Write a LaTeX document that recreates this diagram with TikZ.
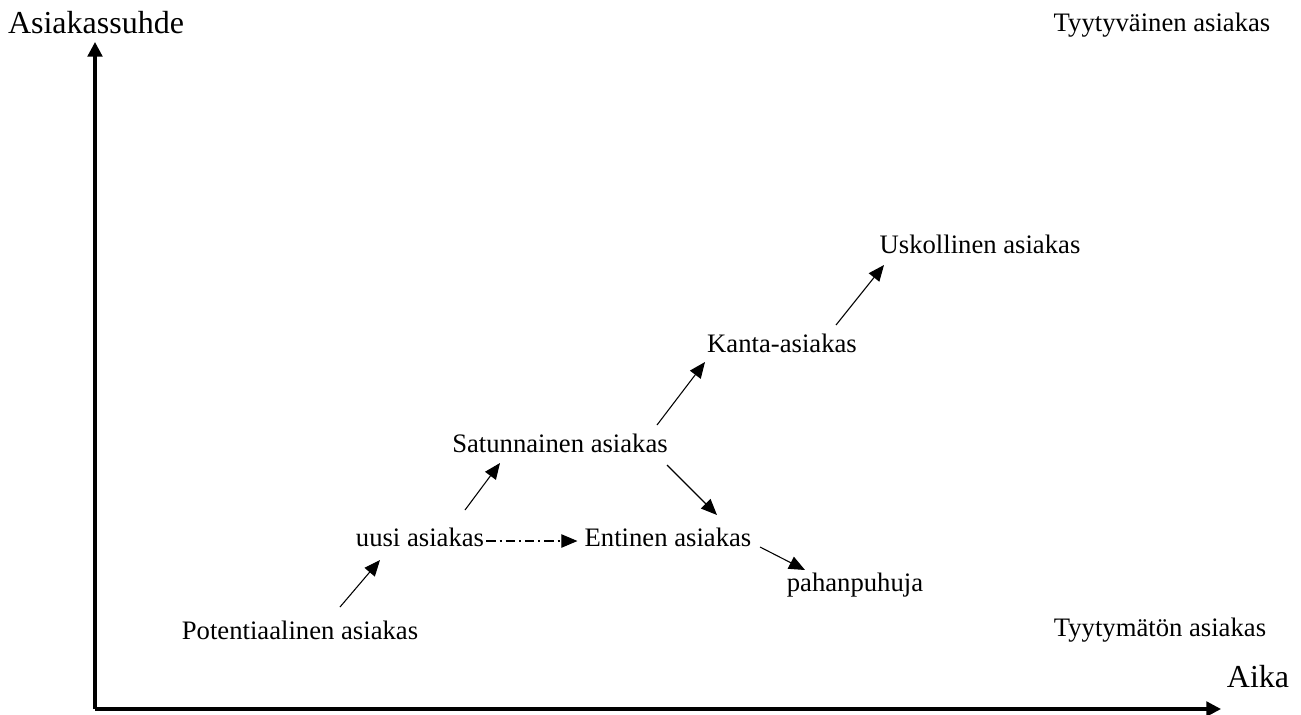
\documentclass[tikz,border=0pt]{standalone}
\usepackage{fontspec}
\setmainfont{Liberation Serif}
\usetikzlibrary{arrows.meta,calc}
\tikzset{
	lbl/.style={font=\fontsize{20}{24}\selectfont, inner sep=0pt},
	axlbl/.style={font=\fontsize{24}{28}\selectfont, inner sep=0pt},
	axis/.style={line width=2.4pt, -{Triangle[length=11pt,width=11pt]}},
	pfeil/.style={line width=0.8pt, -{Triangle[length=12pt,width=10pt]}},
}
\begin{document}
\begin{tikzpicture}[x=0.75pt,y=-0.75pt]
		\useasboundingbox (0,0) rectangle (1301,714);
		% Achsen
		\coordinate (origin) at (95,709);
		\coordinate (yend) at (95,42);
		\coordinate (xend) at (1221,709);
		\draw[axis] (origin) -- (yend);
		\draw[axis] (origin) -- (xend);
		\node[axlbl] (suhde) at (96,23) {Asiakassuhde};
		\node[axlbl] (aika) at (1258,677) {Aika};
		% Ecken
		\node[lbl] (tyyt) at (1162,25) {Tyytyväinen asiakas};
		\node[lbl] (tyytm) at (1160,630) {Tyytymätön asiakas};
		% Stufen
		\node[lbl] (pot) at (300,630) {Potentiaalinen asiakas};
		\node[lbl] (uusi) at (420,537) {uusi asiakas};
		\node[lbl] (satun) at (560,443) {Satunnainen asiakas};
		\node[lbl] (kanta) at (782,343) {Kanta-asiakas};
		\node[lbl] (usk) at (980,244) {Uskollinen asiakas};
		\node[lbl] (ent) at (668,537) {Entinen asiakas};
		\node[lbl] (pahan) at (855,585) {pahanpuhuja};
		% Pfeile
		\draw[pfeil] ($(pot)+(40,-23)$) -- ($(uusi)+(-40,23)$);
		\draw[pfeil] ($(uusi)+(45,-27)$) -- ($(satun)+(-60,20)$);
		\draw[pfeil] ($(satun)+(97,-18)$) -- ($(kanta)+(-77,19)$);
		\draw[pfeil] ($(kanta)+(54,-18)$) -- ($(usk)+(-96,21)$);
		\draw[pfeil] ($(satun)+(107,22)$) -- ($(ent)+(49,-22)$);
		\draw[pfeil] ($(ent)+(92,10)$) -- ($(pahan)+(-50,-15)$);
		\draw[pfeil, dash pattern=on 7pt off 3pt on 1.5pt off 3pt] ($(uusi.east)+(2,4)$) -- ($(ent.west)+(-7,4)$);
	\end{tikzpicture}
\end{document}
